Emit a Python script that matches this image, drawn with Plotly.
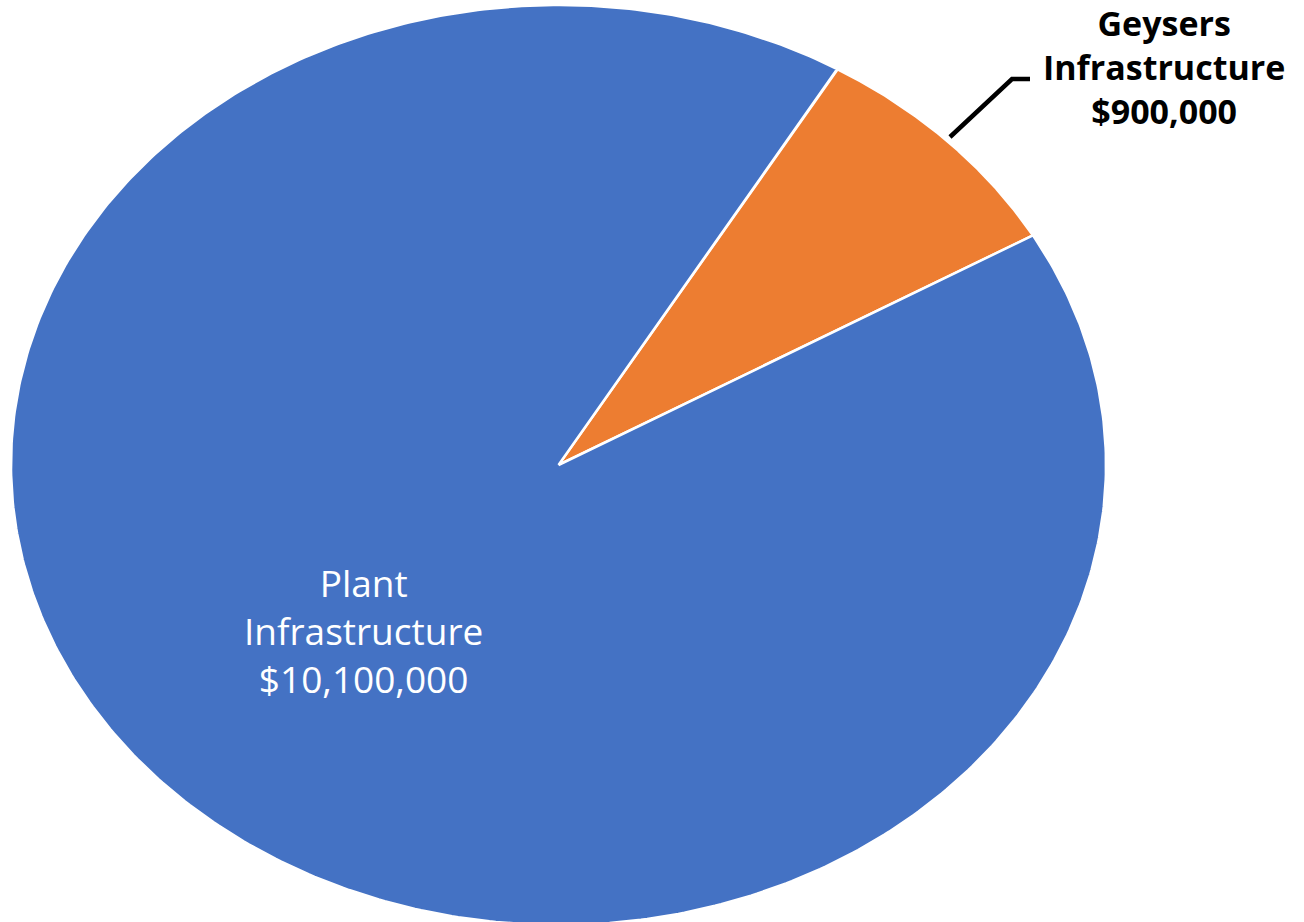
import numpy as np
import plotly.graph_objects as go

labels = ["Geysers Infrastructure", "Plant Infrastructure"]
values = [900000, 10100000]
colors = ["#ED7D31", "#4472C4"]
text_labels = ["Geysers<br>Infrastructure<br>$900,000", "Plant<br>Infrastructure<br>$10,100,000"]

W, H = 1304, 922
cx, cy = 558.5, 465.0
a, b = 547.5, 460.0
rotation = 30.6  # degrees clockwise from 12 o'clock where first slice starts

fig = go.Figure()
total = sum(values)
start = rotation
for lab, v, col in zip(labels, values, colors):
    span = 360.0 * v / total
    th = np.radians(np.linspace(start, start + span, 500))
    xs = np.concatenate([[cx], cx + a * np.sin(th), [cx]])
    ys = np.concatenate([[cy], cy - b * np.cos(th), [cy]])
    fig.add_trace(go.Scatter(x=xs, y=ys, mode="lines", fill="toself",
                             fillcolor=col, line=dict(color="white", width=2.5),
                             name=lab, hoverinfo="name"))
    start += span

# Labels
fig.add_annotation(x=1164, y=67, text="<b>" + text_labels[0] + "</b>", showarrow=False,
                   font=dict(family="Open Sans", size=34, color="black"),
                   xanchor="center", yanchor="middle", align="center")
fig.add_annotation(x=363, y=630, text=text_labels[1], showarrow=False,
                   font=dict(family="Open Sans", size=37, color="white"),
                   xanchor="center", yanchor="middle", align="center")

# Leader line
fig.add_shape(type="path", path="M 950 137 L 1012 79 L 1030 79",
              line=dict(color="black", width=4.5))

fig.update_layout(
    width=W, height=H,
    margin=dict(l=0, r=0, t=0, b=0),
    paper_bgcolor="white", plot_bgcolor="white",
    showlegend=False,
    xaxis=dict(range=[0, W], visible=False, fixedrange=True),
    yaxis=dict(range=[H, 0], visible=False, fixedrange=True),
)
fig.write_html("out.html")
